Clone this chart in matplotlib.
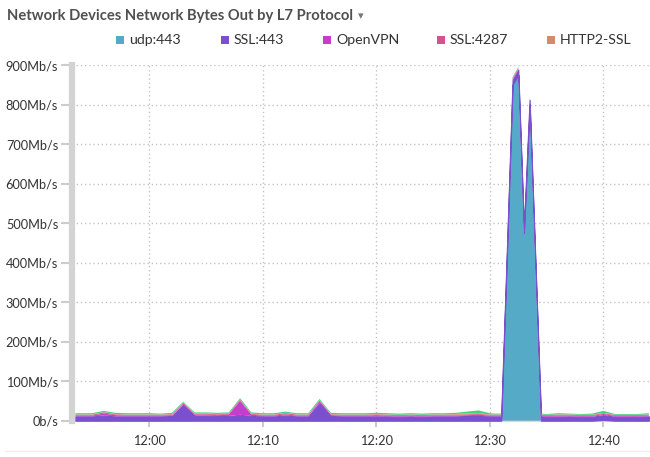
import pandas as pd
import matplotlib
matplotlib.use("Agg")
import matplotlib.pyplot as plt
import matplotlib.dates as mdates
from matplotlib.patches import Rectangle
from matplotlib.lines import Line2D

# minutes relative to 12:00
minutes = [-6.5, -6, -5, -4, -3, -2, -1, 0, 1, 2, 3, 4, 5, 6, 7, 8, 9, 10, 11, 12,
           13, 14, 15, 16, 17, 18, 19, 20, 21, 22, 23, 24, 25, 26, 27, 28, 29, 30,
           30.5, 31, 31.5, 32, 32.5, 33, 33.5, 34, 34.5,
           35, 36, 37, 38, 39, 40, 41, 42, 43, 44]

udp_443 = [0, 0, 0, 0, 0, 0, 0, 0, 0, 0, 0, 0, 0, 0, 0, 0, 0, 0, 0, 0,
           0, 0, 0, 0, 0, 0, 0, 0, 0, 0, 0, 0, 0, 0, 0, 0, 0, 0,
           0, 0, 420, 850, 875, 475, 800, 400, 0,
           0, 0, 0, 0, 0, 2, 0, 0, 0, 0]
ssl_443 = [11, 11, 11, 13, 11, 11, 11, 11, 11, 12, 40, 13, 13, 12, 12, 15, 12, 11, 11, 13,
           11, 11, 45, 12, 11, 11, 11, 11, 11, 10, 11, 10, 11, 11, 11, 12, 12, 11,
           11, 11, 12, 12, 13, 12, 12, 12, 11,
           10, 10, 11, 10, 10, 12, 10, 10, 10, 11]
openvpn = [2, 2, 2, 5, 3, 2, 2, 2, 2, 2, 3, 2, 3, 2, 3, 35, 3, 2, 2, 3,
           2, 2, 4, 2, 2, 2, 2, 3, 2, 2, 2, 2, 2, 2, 2, 2, 3, 2,
           2, 2, 2, 2, 2, 2, 2, 2, 2,
           2, 3, 2, 2, 2, 3, 2, 2, 2, 2]
ssl_4287 = [2, 2, 2, 3, 2, 2, 2, 2, 2, 2, 2, 2, 2, 2, 2, 3, 2, 2, 2, 3,
            2, 2, 2, 2, 2, 2, 2, 2, 2, 2, 2, 2, 2, 2, 2, 2, 2, 2,
            2, 2, 2, 2, 2, 2, 2, 2, 2,
            2, 2, 2, 2, 2, 2, 2, 2, 2, 2]
http2_ssl = [1, 1, 1, 1, 1, 1, 1, 1, 1, 1, 1, 1, 1, 1, 1, 1, 1, 1, 1, 1,
             1, 1, 1, 1, 1, 1, 1, 1, 1, 1, 1, 1, 1, 1, 2, 2, 2, 1,
             1, 1, 1, 1, 1, 1, 1, 1, 1,
             1, 1, 1, 1, 1, 1, 1, 1, 1, 1]
other = [3, 3, 3, 3, 3, 3, 3, 3, 2, 3, 2, 3, 2, 3, 3, 3, 3, 3, 3, 3,
         3, 3, 3, 3, 3, 3, 3, 3, 3, 3, 3, 3, 3, 3, 3, 5, 7, 3,
         2, 2, 2, 2, 2, 2, 2, 2, 2,
         2, 3, 2, 2, 3, 5, 2, 2, 2, 3]

labels = ["udp:443", "SSL:443", "OpenVPN", "SSL:4287", "HTTP2-SSL"]
colors = ["#55aac8", "#7a4fd0", "#c63ccc", "#d8508d", "#d8896a", "#40d47e"]
yticks = [0, 100, 200, 300, 400, 500, 600, 700, 800, 900]
ytick_labels = ["0b/s"] + ["%dMb/s" % v for v in yticks[1:]]

base = pd.Timestamp("2024-01-01 12:00")
times = [base + pd.Timedelta(minutes=m) for m in minutes]

plt.rcParams["font.family"] = ["Lato", "DejaVu Sans"]

fig = plt.figure(figsize=(6.5, 4.57), dpi=100)
ax = fig.add_axes([72 / 650, 36.3 / 457, 578 / 650, 355.7 / 457])

series = [udp_443, ssl_443, openvpn, ssl_4287, http2_ssl, other]
polys = ax.stackplot(times, *series, colors=colors, linewidth=0, zorder=3)
# only the SSL:443 layer gets an outline, as in the original
polys[1].set_edgecolor(colors[1])
polys[1].set_linewidth(0.8)

ax.set_ylim(0, 900)
ax.set_xlim(base + pd.Timedelta(minutes=-6.8), base + pd.Timedelta(minutes=44.1))
ax.set_yticks(yticks)
ax.set_yticklabels(ytick_labels)
ax.xaxis.set_major_locator(mdates.MinuteLocator(byminute=[0, 10, 20, 30, 40]))
ax.xaxis.set_major_formatter(mdates.DateFormatter("%H:%M"))

ax.grid(True, color="#c4c4c4", linestyle=(0, (1, 2)), linewidth=1, zorder=0)
for s in ["top", "right"]:
    ax.spines[s].set_visible(False)
ax.spines["left"].set_color("#d3d3d3")
ax.spines["left"].set_linewidth(4.5)
ax.spines["bottom"].set_color("#d8d8d8")
ax.spines["bottom"].set_linewidth(1.5)
ax.tick_params(axis="y", length=8, width=1.5, color="#cccccc", labelsize=9.2,
               labelcolor="#333333", pad=2)
ax.tick_params(axis="x", length=4, width=1.5, color="#cccccc", labelsize=9.2,
               labelcolor="#333333", pad=6)

fig.text(7 / 650, 1 - 16 / 457, "Network Devices Network Bytes Out by L7 Protocol",
         fontsize=10.6, fontweight="bold", color="#505050", va="center", ha="left")
fig.text(358 / 650, 1 - 16 / 457, "\u25be", fontsize=8, color="#777777",
         va="center", ha="left", family=["DejaVu Sans"])

leg_x = [116, 221, 323, 437, 547]
for x, lab, c in zip(leg_x, labels, colors):
    fig.patches.append(Rectangle((x / 650, 1 - 43.5 / 457), 8 / 650, 8 / 457,
                                 transform=fig.transFigure, facecolor=c, edgecolor="none"))
    fig.text((x + 13) / 650, 1 - 39.5 / 457, lab, fontsize=10.2, color="#333333",
             va="center", ha="left")

fig.lines.append(Line2D([5 / 650, 1], [1 - 451 / 457] * 2, transform=fig.transFigure,
                        color="#eeeeee", linewidth=1))

fig.savefig("out.png", dpi=100)
